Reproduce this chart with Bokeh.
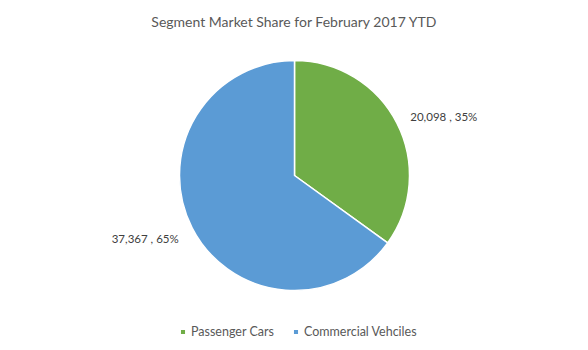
import math
from bokeh.plotting import figure
from bokeh.models import Range1d, Legend, LegendItem
from bokeh.core.properties import value
from bokeh.embed import file_html
from bokeh.resources import INLINE

categories = ["Passenger Cars", "Commercial Vehciles"]
units = [20098, 37367]
colors = ["#70AD47", "#5B9BD5"]
title_text = "Segment Market Share for February 2017 YTD"

W, H = 588, 350
cx, cy, R = 294, H - 175, 115
FONT = "Lato"

total = sum(units)
fracs = [u / total for u in units]
starts, ends = [], []
a = math.pi / 2
for f in fracs:
    starts.append(a)
    a -= 2 * math.pi * f
    ends.append(a)

p = figure(width=W, height=H, output_backend="svg", toolbar_location=None,
           x_range=Range1d(0, W), y_range=Range1d(0, H), min_border=0)
p.axis.visible = False
p.grid.visible = False
p.outline_line_color = None

renderers = []
for i in range(len(units)):
    r = p.wedge(x=cx, y=cy, radius=R, start_angle=starts[i], end_angle=ends[i],
                direction="clock", fill_color=colors[i], line_color="white", line_width=1.5)
    renderers.append(r)

# data labels
lab_texts = [f"{u:,} , {round(f*100)}%" for u, f in zip(units, fracs)]
mids = [(s + e) / 2 for s, e in zip(starts, ends)]
lx, ly, la = [], [], []
for m in mids:
    rr = R + 15
    x = cx + rr * math.cos(m)
    y = cy + rr * math.sin(m)
    if math.sin(m) < 0:
        y -= 4
    lx.append(x)
    ly.append(y)
    la.append("left" if math.cos(m) >= 0 else "right")
p.text(x=lx, y=ly, text=lab_texts, text_align=la, text_baseline="middle",
       text_font=value(FONT), text_font_size="11.5px", text_color="#404040")

p.text(x=[W / 2], y=[H - 21], text=[title_text], text_align="center", text_baseline="middle",
       text_font=value(FONT), text_font_size="14px", text_color="#595959")

legend = Legend(items=[LegendItem(label=categories[i], renderers=[renderers[i]]) for i in range(len(units))],
                orientation="horizontal", location=(179, 9), border_line_alpha=0,
                background_fill_alpha=0, padding=0, margin=0, label_standoff=5, spacing=18,
                glyph_height=7, glyph_width=7, label_text_font=FONT, label_text_font_size="12.5px",
                label_text_color="#595959", label_height=20)
p.add_layout(legend, "center")

open("out.html", "w").write(file_html(p, INLINE))
